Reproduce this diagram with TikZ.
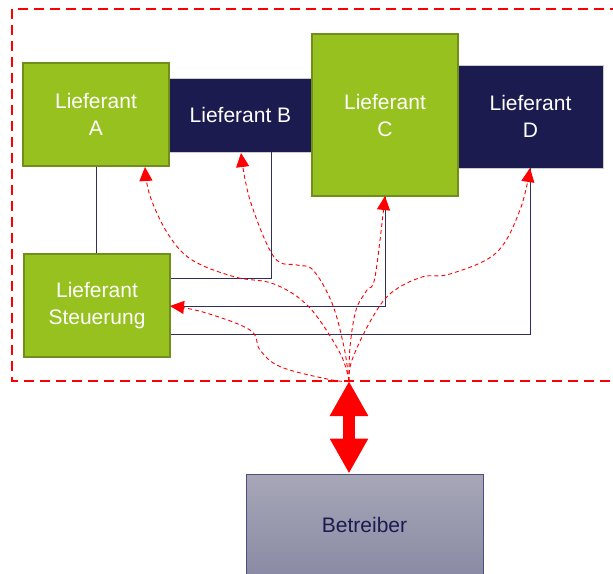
\documentclass[tikz,border=0pt]{standalone}
\usepackage{fontspec}
\setmainfont{Liberation Sans}
\usetikzlibrary{arrows.meta,calc}
\definecolor{lgreen}{HTML}{97C11F}
\definecolor{dgreen}{HTML}{6F8E1C}
\definecolor{navy}{HTML}{1B1B4F}
\definecolor{navyline}{HTML}{2E2E60}
\definecolor{btop}{HTML}{A7A7B8}
\definecolor{bbot}{HTML}{8A8AA4}
\definecolor{bborder}{HTML}{4E4E7C}
\tikzset{
  gbox/.style={draw=dgreen, line width=1.5pt, fill=lgreen, text=white, align=center, inner sep=0pt, font=\fontsize{21}{27}\selectfont},
  nbox/.style={draw=gray!40, line width=0.6pt, fill=navy, text=white, align=center, inner sep=0pt, font=\fontsize{21}{27}\selectfont},
  conn/.style={draw=navyline, line width=0.9pt},
  rcurve/.style={draw=red, line width=0.9pt, dash pattern=on 4pt off 3pt, -{Triangle[length=14pt,width=13pt]}},
}
\begin{document}
\begin{tikzpicture}[x=1pt,y=-1pt]
\useasboundingbox (0,0) rectangle (613,573);
% frame
\draw[red, line width=2.5pt, dash pattern=on 10pt off 6pt] (12,9) rectangle (640,381);
% boxes
\node[nbox, minimum width=143pt, minimum height=74pt] (B) at (240.5,115) {Lieferant B};
\node[nbox, minimum width=146pt, minimum height=103pt] (D) at (530.5,116.5) {Lieferant\\D};
\node[gbox, minimum width=146pt, minimum height=103pt] (A) at (96,114.5) {Lieferant\\A};
\node[gbox, minimum width=146pt, minimum height=162pt] (C) at (385,115) {Lieferant\\C};
\node[gbox, minimum width=146pt, minimum height=103pt] (S) at (97,305.5) {Lieferant\\Steuerung};
\node[draw=bborder, line width=1pt, top color=btop, bottom color=bbot, text=navy, minimum width=237pt, minimum height=102pt, inner sep=0pt, font=\fontsize{21}{27}\selectfont] (Bt) at (364.5,525) {Betreiber};
% coordinates
\coordinate (bx) at (271,0);
\coordinate (by) at (0,278);
\coordinate (cy) at (0,306);
\coordinate (dy) at (0,334);
\coordinate (src) at (349,381);
% navy connectors
\draw[conn] (A.south) -- (A.south |- S.north);
\draw[conn] (B.south -| bx) |- (S.east |- by);
\draw[conn] (C.south) |- (S.east |- cy);
\draw[conn] (D.south) |- (S.east |- dy);
% red dashed curves
\draw[rcurve] plot[smooth, tension=0.6] coordinates {(src) (340,353) (309,307) (274,284) (235,277) (192,260) (168,234) (150,196) (145,167)};
\draw[rcurve] plot[smooth, tension=0.6] coordinates {(src) (344,347) (332,303) (313,270) (297,265) (274,257) (250,200) (241,153)};
\draw[rcurve] plot[smooth, tension=0.6] coordinates {(src) (350,347) (356,310) (367,290) (375,277) (385,196)};
\draw[rcurve] plot[smooth, tension=0.6] coordinates {(src) (352,360) (371,320) (391,293) (422,277) (450,274) (496,253) (520,210) (530,168)};
\draw[rcurve] plot[smooth, tension=0.6] coordinates {(src) (332,380) (281,367) (260,350) (250,330) (203,312) (170,306)};
% big double arrow
\draw[red, line width=12pt, {Triangle[length=35pt,width=36pt]}-{Triangle[length=35pt,width=36pt]}] (src) -- (src |- Bt.north);
\end{tikzpicture}
\end{document}
